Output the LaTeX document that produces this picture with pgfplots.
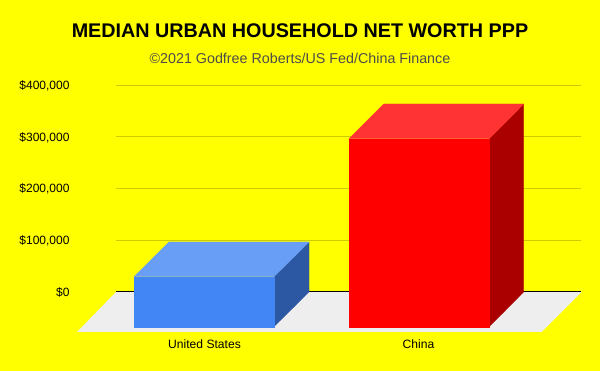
\documentclass[border=0pt]{standalone}
\usepackage{pgfplots}
\pgfplotsset{compat=1.18}
\usepackage{fontspec}
\setmainfont{Liberation Sans}
\definecolor{bgy}{HTML}{FFFF00}
\definecolor{gridc}{HTML}{CCCC00}
\definecolor{floorc}{HTML}{EEEEEE}
\definecolor{usfront}{HTML}{4285F4}
\definecolor{ustop}{HTML}{689EF6}
\definecolor{usside}{HTML}{2C58A3}
\definecolor{cnfront}{HTML}{FF0000}
\definecolor{cntop}{HTML}{FF3333}
\definecolor{cnside}{HTML}{AA0000}
\begin{document}
\begin{tikzpicture}[x=1pt,y=1pt]
\useasboundingbox (0,0) rectangle (600,371);
\fill[bgy] (0,0) rectangle (600,371);
\begin{axis}[
  at={(116pt,39pt)}, anchor=south west,
  scale only axis, width=465pt, height=247pt,
  xmin=116, xmax=581, ymin=-77295, ymax=400000,
  clip=false,
  scaled y ticks=false,
  axis line style={draw=none},
  major tick length=0pt,
  ytick={0,100000,200000,300000,400000},
  yticklabels={{\$0},{\$100,000},{\$200,000},{\$300,000},{\$400,000}},
  yticklabel style={font=\fontsize{12}{14}\selectfont, xshift=-43pt, yshift=-0.7pt},
  xtick={204.5,418.5},
  xticklabels={United States,China},
  xticklabel style={font=\fontsize{12.1}{14}\selectfont, yshift=-4.5pt},
  ymajorgrids,
  y grid style={gridc, line width=0.9pt},
]
% floor
\addplot[fill=floorc, draw=none] coordinates {(116,0) (581.5,0) (541.7,-77295) (77,-77295)} --cycle;
% zero line
\addplot[black, line width=1pt] coordinates {(116,0) (581,0)};
% United States
\addplot[fill=usside, draw=usside, line width=0.2pt] coordinates {(274,29565) (309,96618) (309,0) (274,-67053)} --cycle;
\addplot[fill=ustop, draw=ustop, line width=0.2pt] coordinates {(134,29565) (274,29565) (309,96618) (169,96618)} --cycle;
\addplot[fill=usfront, draw=usfront, line width=0.2pt] coordinates {(134,29565) (274,29565) (274,-67053) (134,-67053)} --cycle;
% China
\addplot[fill=cnside, draw=cnside, line width=0.2pt] coordinates {(489.3,296232) (523.7,363285) (523.7,0) (489.3,-67053)} --cycle;
\addplot[fill=cntop, draw=cntop, line width=0.2pt] coordinates {(349,296232) (489.3,296232) (523.7,363285) (383.7,363285)} --cycle;
\addplot[fill=cnfront, draw=cnfront, line width=0.2pt] coordinates {(349,296232) (489.3,296232) (489.3,-67053) (349,-67053)} --cycle;
\end{axis}
\node[font=\fontsize{19.75}{24}\selectfont\bfseries, text=black] at (300,340) {MEDIAN URBAN HOUSEHOLD NET WORTH PPP};
\node[font=\fontsize{14.3}{17}\selectfont, text=black!70] at (300,313) {©2021 Godfree Roberts/US Fed/China Finance};
\end{tikzpicture}
\end{document}
